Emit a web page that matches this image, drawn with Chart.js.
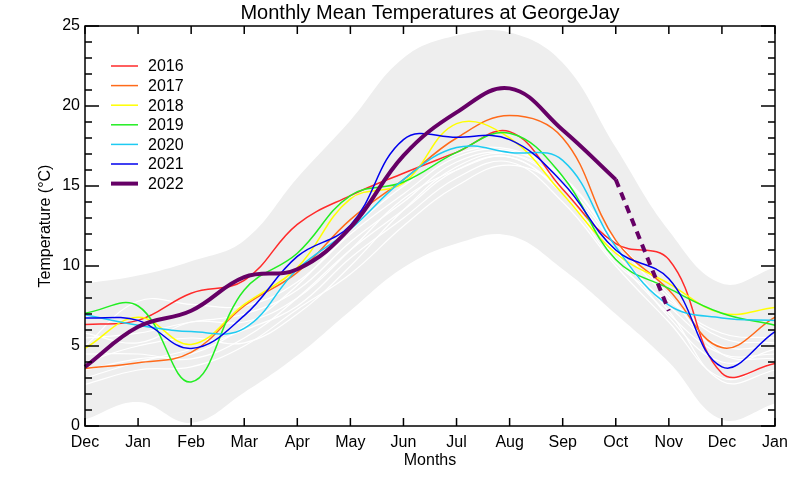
<!DOCTYPE html>
<html>
<head>
<meta charset="utf-8">
<title>Monthly Mean Temperatures at GeorgeJay</title>
<script src="https://cdn.jsdelivr.net/npm/chart.js@4.4.1/dist/chart.umd.min.js"></script>
<style>
    html, body { margin: 0; padding: 0; background: #fff; }
    #chart { display: block; }
</style>
</head>
<body>
<canvas id="chart" width="800" height="480"></canvas>
<script>
// Months, Dec of previous year to Jan of next year
const months = ['Dec', 'Jan', 'Feb', 'Mar', 'Apr', 'May', 'Jun', 'Jul', 'Aug', 'Sep', 'Oct', 'Nov', 'Dec', 'Jan'];
const yTicks = [0, 5, 10, 15, 20, 25];

// grey envelope (range of all years)
const bandUpper = [8.9, 9.4, 10.3, 11.6, 15.5, 19.1, 23.0, 24.4, 24.6, 22.7, 17.4, 12.2, 8.9, 9.9];
const bandLower = [0.4, 1.5, 0.2, 2.1, 4.4, 7.2, 9.9, 11.4, 11.9, 9.8, 7.0, 4.0, 0.4, 1.4];

// earlier years, drawn in white
const past1 = [5.5, 5.8, 6.5, 7.0, 8.5, 11.5, 14.0, 16.5, 17.0, 15.0, 11.0, 7.5, 5.0, 5.0];
const past2 = [4.5, 4.5, 4.2, 5.5, 8.0, 11.0, 13.5, 16.0, 16.8, 14.5, 10.5, 7.0, 4.5, 4.5];
const past3 = [3.0, 4.0, 4.8, 6.0, 7.5, 10.5, 13.0, 15.5, 16.5, 14.0, 10.0, 6.5, 3.0, 4.0];
const past4 = [5.0, 7.8, 7.6, 7.5, 9.0, 12.0, 14.5, 16.8, 17.2, 15.5, 11.5, 8.0, 5.5, 5.2];
const past5 = [2.6, 3.5, 3.7, 5.0, 7.3, 9.5, 12.5, 15.0, 16.3, 14.8, 10.8, 7.2, 2.8, 3.5];
const past6 = [4.0, 5.0, 5.5, 5.2, 7.0, 10.0, 13.5, 16.2, 17.0, 15.2, 11.2, 6.8, 4.0, 4.8];
const past7 = [5.8, 5.2, 6.5, 6.5, 8.0, 11.0, 14.2, 16.0, 16.8, 14.5, 10.2, 7.8, 5.8, 5.5];
const past8 = [3.5, 4.2, 4.5, 6.2, 8.8, 12.2, 15.0, 17.0, 17.3, 15.6, 11.6, 8.2, 4.5, 4.2];

// recent years
const t2016 = [6.35, 6.6, 8.3, 9.1, 12.6, 14.4, 15.8, 17.1, 18.4, 14.8, 11.4, 10.4, 3.3, 3.9];
const t2017 = [3.6, 3.95, 4.6, 7.5, 9.6, 12.9, 15.4, 18.0, 19.4, 18.0, 11.6, 8.5, 4.9, 6.8];
const t2018 = [4.85, 6.8, 5.1, 7.6, 9.9, 14.2, 15.2, 18.9, 18.0, 14.5, 10.8, 8.9, 7.05, 7.4];
const t2019 = [7.05, 7.5, 2.75, 8.5, 10.8, 14.4, 15.25, 17.1, 18.3, 15.6, 10.4, 8.6, 7.05, 6.3];
const t2020 = [6.95, 6.3, 5.9, 6.1, 9.8, 12.3, 15.4, 17.4, 17.1, 16.6, 11.2, 7.55, 6.75, 6.6];
const t2021 = [6.75, 6.6, 4.85, 6.9, 10.6, 12.55, 17.9, 18.05, 17.9, 15.2, 11.0, 9.2, 3.7, 5.9];
const t2022 = [3.7, 6.2, 7.2, 9.3, 9.8, 12.4, 16.9, 19.6, 21.1, 18.5, 15.4, null, null, null];
const t2022Proj = [null, null, null, null, null, null, null, null, null, null, 15.4, 7.2, null, null];

const years = ['2016', '2017', '2018', '2019', '2020', '2021', '2022'];
const yearColors = ['#ff2a2a', '#ff6a1a', '#ffff00', '#22ee22', '#1ecbf2', '#0000ee', '#660066'];
const yearWidths = [1.5, 1.5, 1.5, 1.5, 1.5, 1.5, 4];

const pastYears = [past1, past2, past3, past4, past5, past6, past7, past8];
const yearValues = [t2016, t2017, t2018, t2019, t2020, t2021, t2022];

const FONT = "'Liberation Sans', Arial, Helvetica, sans-serif";
Chart.defaults.font.family = FONT;
Chart.defaults.color = '#000';

const datasets = [];
datasets.push({ label: 'low', data: bandLower, borderWidth: 0, borderColor: 'rgba(0,0,0,0)',
    pointRadius: 0, tension: 0.4, fill: false, order: 100 });
datasets.push({ label: 'high', data: bandUpper, borderWidth: 0, borderColor: 'rgba(0,0,0,0)',
    backgroundColor: '#eeeeee', pointRadius: 0, tension: 0.4, fill: '-1', order: 99 });

pastYears.forEach((vals, i) => {
    datasets.push({ label: 'past' + i, data: vals, borderColor: '#ffffff', borderWidth: 1.2,
        pointRadius: 0, tension: 0.4, fill: false, order: 50 });
});

yearValues.forEach((vals, i) => {
    datasets.push({ label: years[i], data: vals, borderColor: yearColors[i], borderWidth: yearWidths[i],
        pointRadius: 0, tension: 0.4, fill: false, spanGaps: false, order: 10 - i, inLegend: true });
});
datasets.push({ label: '2022 projected', data: t2022Proj, borderColor: yearColors[6], borderWidth: 4,
    borderDash: [8, 6], pointRadius: 0, tension: 0, fill: false, order: 0 });

// frame, inward ticks and the legend box
const framePlugin = {
    id: 'frame',
    afterDatasetsDraw(chart) {
        const ctx = chart.ctx;
        const a = chart.chartArea;
        const x = chart.scales.x;
        const y = chart.scales.y;
        ctx.save();
        ctx.strokeStyle = '#000';
        ctx.lineWidth = 1.5;
        ctx.beginPath();
        months.forEach((m, i) => {
            const px = x.getPixelForValue(i);
            ctx.moveTo(px, a.bottom); ctx.lineTo(px, a.bottom - 8);
            ctx.moveTo(px, a.top); ctx.lineTo(px, a.top + 8);
        });
        for (let v = 0; v <= 25; v++) {
            const py = y.getPixelForValue(v);
            const len = v % 5 === 0 ? 14 : 7;
            ctx.moveTo(a.left, py); ctx.lineTo(a.left + len, py);
            ctx.moveTo(a.right, py); ctx.lineTo(a.right - len, py);
        }
        ctx.stroke();
        ctx.strokeRect(a.left, a.top, a.right - a.left, a.bottom - a.top);

        // legend
        ctx.font = '16px ' + FONT;
        ctx.textBaseline = 'middle';
        ctx.fillStyle = '#000';
        chart.data.datasets.filter(d => d.inLegend).forEach((d, i) => {
            const ly = 66 + i * 19.6;
            ctx.beginPath();
            ctx.strokeStyle = d.borderColor;
            ctx.lineWidth = d.borderWidth;
            ctx.moveTo(111, ly); ctx.lineTo(138, ly);
            ctx.stroke();
            ctx.fillText(d.label, 148, ly + 1);
        });
        ctx.restore();
    }
};

new Chart(document.getElementById('chart'), {
    type: 'line',
    data: { labels: months, datasets: datasets },
    options: {
        responsive: false,
        animation: false,
        layout: { padding: { right: 25 } },
        plugins: {
            legend: { display: false },
            tooltip: { enabled: false },
            title: {
                display: true,
                fullSize: false,
                text: 'Monthly Mean Temperatures at GeorgeJay',
                font: { size: 20, weight: 'normal' },
                padding: { top: 1.5, bottom: 0.5 }
            }
        },
        scales: {
            x: {
                grid: { display: false, drawTicks: false },
                border: { display: false },
                ticks: { padding: 7, font: { size: 16 }, maxRotation: 0, autoSkip: false },
                title: { display: true, text: 'Months', font: { size: 16 }, padding: { top: 0, bottom: 10 } },
                afterFit(scale) { scale.height = 54; }
            },
            y: {
                min: 0,
                max: 25,
                grid: { display: false, drawTicks: false },
                border: { display: false },
                afterBuildTicks(scale) { scale.ticks = yTicks.map(v => ({ value: v })); },
                ticks: { padding: 5, font: { size: 16 } },
                title: { display: true, text: 'Temperature (°C)', font: { size: 16 }, padding: { top: 36 } },
                afterFit(scale) { scale.width = 85; }
            }
        }
    },
    plugins: [framePlugin]
});
</script>
</body>
</html>
